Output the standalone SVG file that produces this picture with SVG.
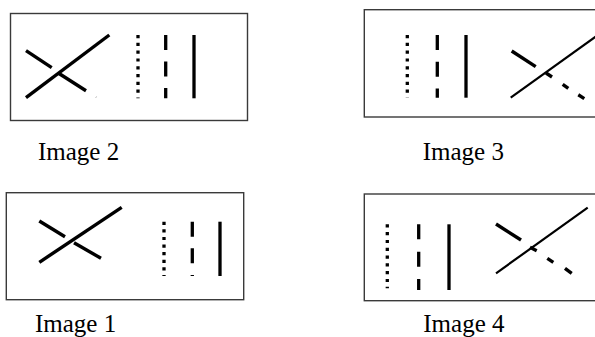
<svg xmlns="http://www.w3.org/2000/svg" width="595" height="337" viewBox="0 0 595 337">
<style>
.frame{fill:#fff;stroke:#3a3a3a;stroke-width:1.4}
.thick{stroke:#000;stroke-width:3.4;fill:none}
.thin{stroke:#000;stroke-width:2.2;fill:none}
.dot{stroke:#000;stroke-width:3.3;fill:none}
.lbl{font-family:"Liberation Serif","Times New Roman",serif;font-size:25px;fill:#000}
</style>
<rect width="595" height="337" fill="#fff"/>
<g id="image2">
<rect class="frame" x="10.5" y="13.5" width="237" height="107"/>
<line class="thick" x1="26" y1="97.7" x2="109.3" y2="35"/>
<line class="thick" x1="26" y1="50.7" x2="51.7" y2="67.7"/>
<line class="thick" x1="59" y1="73.5" x2="86" y2="90.7"/>
<line x1="95.6" y1="98" x2="96.6" y2="96.4" stroke="#aaa" stroke-width="0.8"/>
<line class="dot" x1="138" y1="35" x2="138" y2="98.3" stroke-dasharray="3.2 4.6"/>
<line class="dot" x1="165.7" y1="35" x2="165.7" y2="98.3" stroke-dasharray="15 11.5"/>
<line class="dot" x1="194" y1="35" x2="194" y2="98.3"/>
<text class="lbl" x="38" y="160">Image 2</text>
</g>
<g id="image3">
<rect class="frame" x="364.3" y="9.7" width="240" height="107.3"/>
<line class="dot" x1="407.3" y1="35" x2="407.3" y2="97.7" stroke-dasharray="3.2 4.6"/>
<line class="dot" x1="437.3" y1="35" x2="437.3" y2="97.7" stroke-dasharray="15 11.7"/>
<line class="dot" x1="466" y1="35" x2="466" y2="97.7"/>
<line class="thin" x1="510.7" y1="97.7" x2="596" y2="36.5"/>
<line class="thick" x1="511.7" y1="51" x2="535.7" y2="66.7"/>
<line class="thick" x1="546" y1="73" x2="552" y2="77"/>
<line class="thick" x1="562.7" y1="84.3" x2="568.3" y2="88.3"/>
<line class="thick" x1="578.3" y1="94.8" x2="584.3" y2="98.6"/>
<text class="lbl" x="422.7" y="160">Image 3</text>
</g>
<g id="image1">
<rect class="frame" x="6.3" y="192.7" width="237.4" height="107"/>
<line class="thick" x1="39.3" y1="262.3" x2="121.7" y2="207.3"/>
<line class="thick" x1="39.3" y1="221" x2="65" y2="236.7"/>
<line class="thick" x1="74" y1="242.7" x2="101" y2="258.3"/>
<line class="dot" x1="164" y1="221.7" x2="164" y2="276" stroke-dasharray="3.2 4.4"/>
<line class="dot" x1="192.3" y1="221.7" x2="192.3" y2="276" stroke-dasharray="15 11.6"/>
<line class="dot" x1="220" y1="221.7" x2="220" y2="276"/>
<text class="lbl" x="35" y="331.7">Image 1</text>
</g>
<g id="image4">
<rect class="frame" x="364.3" y="194" width="240" height="106.7"/>
<line class="dot" x1="387.3" y1="224.3" x2="387.3" y2="288.3" stroke-dasharray="3.2 4.6"/>
<line class="dot" x1="418.7" y1="224.3" x2="418.7" y2="290" stroke-dasharray="15 12.4"/>
<line class="dot" x1="449" y1="224.3" x2="449" y2="290"/>
<line class="thin" x1="496" y1="273.3" x2="587.7" y2="207.7"/>
<line class="thick" x1="496" y1="224" x2="521" y2="240"/>
<line class="thick" x1="530" y1="247.3" x2="536.7" y2="250.7"/>
<line class="thick" x1="547.3" y1="258.3" x2="553.3" y2="262.3"/>
<line class="thick" x1="565" y1="268.3" x2="571.7" y2="273.3"/>
<text class="lbl" x="423.3" y="331.7">Image 4</text>
</g>
</svg>
